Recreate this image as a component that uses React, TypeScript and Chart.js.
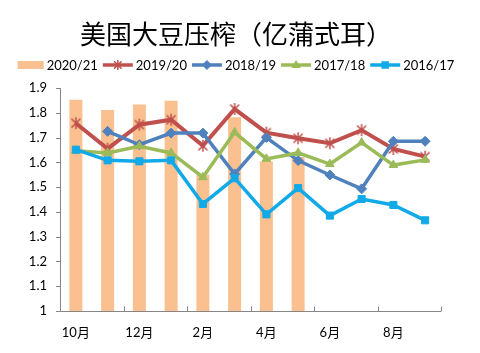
import React, { useEffect, useRef } from 'react';
import { Chart, registerables } from 'chart.js';

Chart.register(...registerables);

const titleText = '美国大豆压榨（亿蒲式耳）';
const categories = ['10月', '11月', '12月', '1月', '2月', '3月', '4月', '5月', '6月', '7月', '8月', '9月'];
const seriesNames = ['2020/21', '2019/20', '2018/19', '2017/18', '2016/17'];
const s2020_21 = [1.853, 1.811, 1.833, 1.849, 1.55, 1.782, 1.603, 1.622, null, null, null, null];
const s2019_20 = [1.758, 1.655, 1.752, 1.772, 1.667, 1.815, 1.72, 1.697, 1.677, 1.73, 1.654, 1.623];
const s2018_19 = [null, 1.725, 1.671, 1.718, 1.718, 1.553, 1.7, 1.607, 1.549, 1.493, 1.685, 1.685];
const s2017_18 = [1.647, 1.638, 1.665, 1.638, 1.54, 1.721, 1.614, 1.638, 1.593, 1.68, 1.589, 1.61];
const s2016_17 = [1.651, 1.608, 1.604, 1.608, 1.432, 1.536, 1.39, 1.496, 1.385, 1.452, 1.428, 1.366];
const yMin = 1;
const yMax = 1.9;
const yStep = 0.1;

const COLORS = ['#FAC090', '#C0504D', '#4F81BD', '#9BBB59', '#12A9E8'];
const STYLES = ['bar', 'star', 'rectRot', 'triangle', 'rect'];
const FONT = 'Lato, "Noto Sans CJK SC", sans-serif';
const AXIS = '#868686';

function drawMarker(ctx: CanvasRenderingContext2D, style: string, x: number, y: number, r: number, color: string) {
  ctx.save();
  ctx.fillStyle = color;
  ctx.strokeStyle = color;
  ctx.lineWidth = 1.5;
  ctx.beginPath();
  if (style === 'star') {
    const d = r * 0.75;
    ctx.moveTo(x - d, y - d);
    ctx.lineTo(x + d, y + d);
    ctx.moveTo(x + d, y - d);
    ctx.lineTo(x - d, y + d);
    ctx.moveTo(x, y - r);
    ctx.lineTo(x, y + r);
    ctx.stroke();
  } else if (style === 'rectRot') {
    ctx.moveTo(x, y - r);
    ctx.lineTo(x + r, y);
    ctx.lineTo(x, y + r);
    ctx.lineTo(x - r, y);
    ctx.closePath();
    ctx.fill();
  } else if (style === 'triangle') {
    ctx.moveTo(x, y - r);
    ctx.lineTo(x + r * 0.95, y + r * 0.6);
    ctx.lineTo(x - r * 0.95, y + r * 0.6);
    ctx.closePath();
    ctx.fill();
  } else if (style === 'rect') {
    const s = r * 0.75;
    ctx.rect(x - s, y - s, 2 * s, 2 * s);
    ctx.fill();
  }
  ctx.restore();
}

function makeStarImage(color: string) {
  const c = document.createElement('canvas');
  c.width = 14;
  c.height = 14;
  const cx = c.getContext('2d')!;
  drawMarker(cx, 'star', 7, 7, 6, color);
  return c;
}

const decorPlugin = {
  id: 'decor',
  afterDraw(chart: any) {
    const { ctx, chartArea } = chart;
    const { left, right, top, bottom } = chartArea;
    ctx.save();
    // title
    ctx.fillStyle = '#000';
    ctx.font = '26px "Noto Sans CJK SC", sans-serif';
    ctx.textAlign = 'center';
    ctx.textBaseline = 'middle';
    ctx.fillText(titleText, 236, 34);

    // legend
    ctx.font = '13px ' + FONT;
    ctx.textAlign = 'left';
    const items = seriesNames.map((n, i) => ({
      name: n,
      mw: i === 0 ? 26 : 30,
      tw: ctx.measureText(n).width,
    }));
    const gapMT = 3;
    const gapItem = 5;
    const total = items.reduce((a, it) => a + it.mw + gapMT + it.tw, 0) + gapItem * (items.length - 1);
    let x = 236 - total / 2;
    const ly = 65;
    items.forEach((it, i) => {
      if (i === 0) {
        ctx.fillStyle = COLORS[0];
        ctx.fillRect(x, ly - 4, it.mw, 8);
      } else {
        ctx.strokeStyle = COLORS[i];
        ctx.lineWidth = 3.5;
        ctx.beginPath();
        ctx.moveTo(x, ly);
        ctx.lineTo(x + it.mw, ly);
        ctx.stroke();
        drawMarker(ctx, STYLES[i], x + it.mw / 2, ly, 5, COLORS[i]);
      }
      x += it.mw + gapMT;
      ctx.fillStyle = '#000';
      ctx.fillText(it.name, x, ly + 1);
      x += it.tw + gapItem;
    });

    // axes
    ctx.strokeStyle = AXIS;
    ctx.lineWidth = 1;
    ctx.beginPath();
    ctx.moveTo(Math.round(left) + 0.5, top);
    ctx.lineTo(Math.round(left) + 0.5, Math.round(bottom) + 0.5);
    ctx.lineTo(right, Math.round(bottom) + 0.5);
    const ys = chart.scales.y;
    for (let v = yMin; v <= yMax + 1e-9; v += yStep) {
      const py = Math.round(ys.getPixelForValue(v)) + 0.5;
      ctx.moveTo(Math.round(left) - 4, py);
      ctx.lineTo(Math.round(left) + 0.5, py);
    }
    const n = categories.length;
    for (let i = 0; i <= n; i += 2) {
      const px = Math.round(left + ((right - left) * i) / n) + 0.5;
      ctx.moveTo(px, Math.round(bottom) + 0.5);
      ctx.lineTo(px, Math.round(bottom) - 4.5);
    }
    ctx.stroke();
    ctx.restore();
  },
};

export default function App() {
  const ref = useRef<HTMLCanvasElement>(null);
  useEffect(() => {
    document.body.style.margin = '0';
    const starImg = makeStarImage(COLORS[1]);
    const lineDs = (label: string, data: any[], i: number, order: number) => ({
      type: 'line' as const,
      label,
      data,
      borderColor: COLORS[i],
      backgroundColor: COLORS[i],
      borderWidth: i === 1 ? 4 : 3.5,
      pointStyle: STYLES[i] === 'star' ? starImg : STYLES[i],
      pointRadius: 5,
      pointBorderWidth: 1,
      pointBackgroundColor: COLORS[i],
      pointBorderColor: COLORS[i],
      tension: 0,
      spanGaps: false,
      order,
    });
    const chart = new Chart(ref.current!, {
      type: 'bar',
      data: {
        labels: categories,
        datasets: [
          {
            type: 'bar',
            label: seriesNames[0],
            data: s2020_21 as any,
            backgroundColor: COLORS[0],
            barPercentage: 0.41,
            categoryPercentage: 1,
            order: 10,
          },
          lineDs(seriesNames[1], s2019_20, 1, 4),
          lineDs(seriesNames[2], s2018_19, 2, 3),
          lineDs(seriesNames[3], s2017_18, 3, 2),
          lineDs(seriesNames[4], s2016_17, 4, 1),
        ] as any,
      },
      options: {
        animation: false,
        responsive: false,
        layout: { padding: { top: 88, right: 39, left: 0, bottom: 0 } },
        plugins: { legend: { display: false }, title: { display: false }, tooltip: { enabled: false } },
        scales: {
          x: {
            offset: true,
            grid: { display: false },
            border: { display: false },
            ticks: {
              autoSkip: false,
              maxRotation: 0,
              padding: 6,
              color: '#000',
              font: { family: FONT, size: 13 },
              callback: (_v: any, i: number) => (i % 2 === 0 ? categories[i] : ''),
            },
            afterFit: (s: any) => {
              s.height = 42;
            },
          },
          y: {
            min: yMin,
            max: yMax,
            grid: { display: false },
            border: { display: false },
            ticks: {
              stepSize: yStep,
              padding: 5,
              color: '#000',
              font: { family: FONT, size: 13 },
              callback: (v: any) => String(Number(Number(v).toFixed(1))),
            },
            afterFit: (s: any) => {
              s.width = 60;
            },
          },
        },
      },
      plugins: [decorPlugin],
    });
    return () => chart.destroy();
  }, []);
  return (
    <div style={{ width: 480, height: 353, background: '#fff' }}>
      <canvas ref={ref} width={480} height={353} />
    </div>
  );
}
